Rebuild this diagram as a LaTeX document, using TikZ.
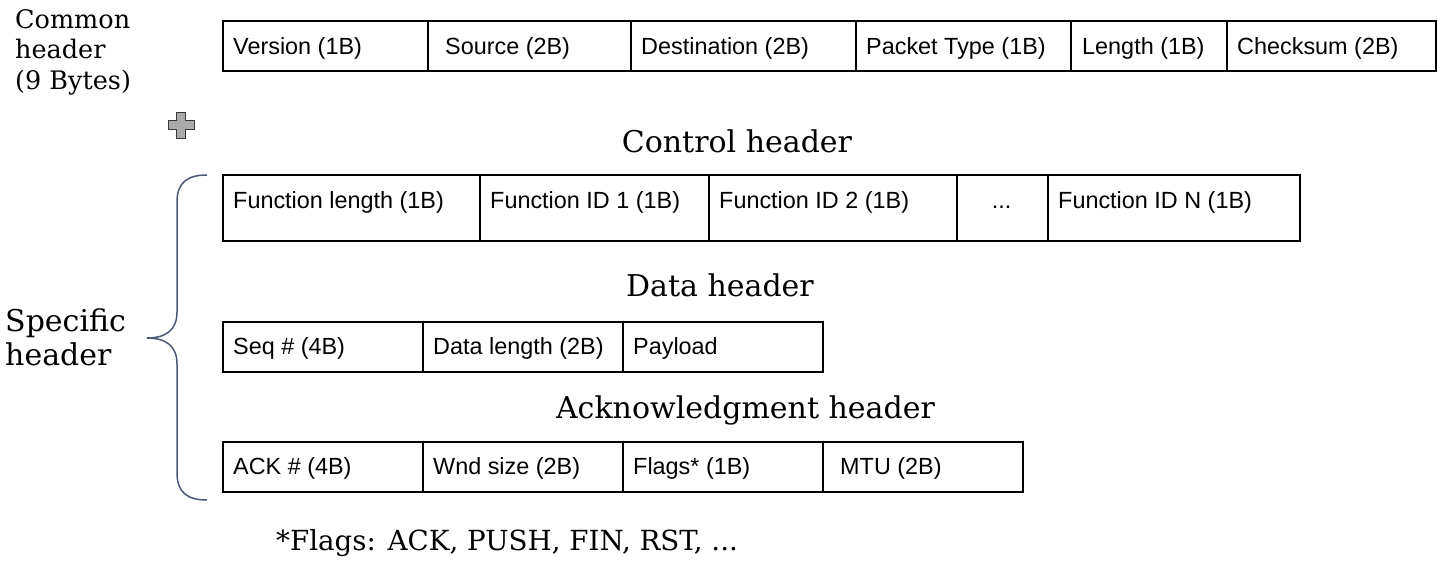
\documentclass[tikz,border=0pt]{standalone}
\usepackage{fontspec}
\setmainfont{DejaVu Serif}
\newfontfamily\cellfont{Liberation Sans}
\definecolor{bracecol}{HTML}{4A5875}
\definecolor{plusfill}{HTML}{AAAAAA}
\definecolor{plusline}{HTML}{3A3A3A}
\tikzset{
  cellbox/.style={draw=black, line width=1.6pt, inner sep=0pt, anchor=north west},
  celltext/.style={font=\cellfont\fontsize{23.4}{27}\selectfont, inner sep=0pt, anchor=base west},
  titletext/.style={font=\fontsize{30}{36}\selectfont, inner sep=0pt, anchor=base},
  sidetext/.style={font=\fontsize{30}{36}\selectfont, inner sep=0pt, anchor=base west},
  commontext/.style={font=\fontsize{25.5}{30}\selectfont, inner sep=0pt, anchor=base west},
  notetext/.style={font=\fontsize{27.7}{32}\selectfont, inner sep=0pt, anchor=base west},
  bracestyle/.style={draw=bracecol, line width=1.5pt},
  plusstyle/.style={fill=plusfill, draw=plusline, line width=1pt}
}
\newcommand\mkcell[5]{%
  \node[cellbox, minimum width={(#3-#2)*1pt}, minimum height={(#5-#4)*1pt}] (#1) at (#2,#4) {};}
\begin{document}
\begin{tikzpicture}[x=1pt,y=-1pt]
\useasboundingbox (0,0) rectangle (1451,568);
% Common header text
\node[commontext] (c1) at (15,28) {Common};
\node[commontext] (c2) at (15,58.5) {header};
\node[commontext] (c3) at (15,89) {(9 Bytes)};
% Common header row
\mkcell{ver}{222}{427}{20}{70}
\mkcell{src}{427}{630}{20}{70}
\mkcell{dst}{630}{855}{20}{70}
\mkcell{ptype}{855}{1070}{20}{70}
\mkcell{len}{1070}{1226}{20}{70}
\mkcell{chk}{1226}{1435}{20}{70}
\node[celltext] (vert) at (233,54) {Version (1B)};
\node[celltext] (srct) at (445,54) {Source (2B)};
\node[celltext] (dstt) at (641,54) {Destination (2B)};
\node[celltext] (ptypet) at (866,54) {Packet Type (1B)};
\node[celltext] (lent) at (1082,54) {Length (1B)};
\node[celltext] (chkt) at (1237,54) {Checksum (2B)};
% plus
\draw[plusstyle] (176.5,112) -- (185.5,112) -- (185.5,120.5) -- (194,120.5) -- (194,129.5) -- (185.5,129.5) -- (185.5,138) -- (176.5,138) -- (176.5,129.5) -- (168,129.5) -- (168,120.5) -- (176.5,120.5) -- cycle;
% Control header
\node[titletext] (ctitle) at (737,152) {Control header};
\mkcell{flen}{222}{479}{174}{240}
\mkcell{fid1}{479}{708}{174}{240}
\mkcell{fid2}{708}{956}{174}{240}
\mkcell{fdots}{956}{1047}{174}{240}
\mkcell{fidn}{1047}{1299}{174}{240}
\node[celltext] (flent) at (233,208) {Function length (1B)};
\node[celltext] (fid1t) at (490,208) {Function ID 1 (1B)};
\node[celltext] (fid2t) at (719,208) {Function ID 2 (1B)};
\node[celltext, anchor=base] (fdotst) at (1001.5,208) {...};
\node[celltext] (fidnt) at (1058,208) {Function ID N (1B)};
% Data header
\node[titletext] (dtitle) at (720,296) {Data header};
\mkcell{seq}{222}{422}{321}{371}
\mkcell{dlen}{422}{622}{321}{371}
\mkcell{pay}{622}{822}{321}{371}
\node[celltext] (seqt) at (233,354) {Seq \# (4B)};
\node[celltext] (dlent) at (433,354) {Data length (2B)};
\node[celltext] (payt) at (633,354) {Payload};
% Ack header
\node[titletext] (atitle) at (745.5,418) {Acknowledgment header};
\mkcell{ack}{222}{422}{441}{491}
\mkcell{wnd}{422}{622}{441}{491}
\mkcell{flg}{622}{822}{441}{491}
\mkcell{mtu}{822}{1022}{441}{491}
\node[celltext] (ackt) at (233,474) {ACK \# (4B)};
\node[celltext] (wndt) at (433,474) {Wnd size (2B)};
\node[celltext] (flgt) at (633,474) {Flags* (1B)};
\node[celltext] (mtut) at (840,474) {MTU (2B)};
% Specific header + brace
\node[sidetext] (s1) at (5,331) {Specific};
\node[sidetext] (s2) at (5,365) {header};
\draw[bracestyle] (207,175) .. controls (188,175) and (177,182) .. (177,202) -- (177,312) .. controls (177,330) and (166,338) .. (147,338) .. controls (166,338) and (177,346) .. (177,364) -- (177,473) .. controls (177,493) and (188,500) .. (207,500);
% note
\node[notetext] (note) at (276,550) {*Flags: ACK, PUSH, FIN, RST, ...};
\end{tikzpicture}
\end{document}
